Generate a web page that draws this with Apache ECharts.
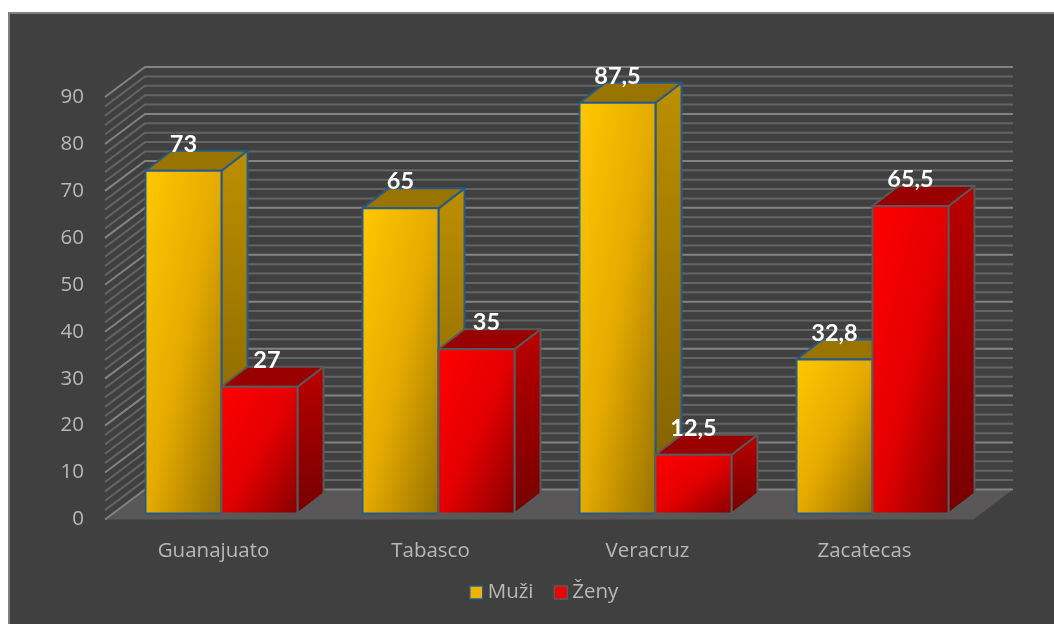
<!DOCTYPE html>
<html>
<head>
<meta charset="utf-8">
<style>html,body{margin:0;padding:0;background:#fff}#c{width:1054px;height:624px}</style>
<script src="https://cdn.jsdelivr.net/npm/echarts@6/dist/echarts.min.js"></script>
</head>
<body>
<div id="c"></div>
<script>
const categories = ['Guanajuato', 'Tabasco', 'Veracruz', 'Zacatecas'];
const muzi = [73, 65, 87.5, 32.8];
const zeny = [27, 35, 12.5, 65.5];
const gridTicks = [0,2,4,6,8,10,12,14,16,18,20,22,24,26,28,30,32,34,36,38,40,42,44,46,48,50,52,54,56,58,60,62,64,66,68,70,72,74,76,78,80,82,84,86,88,90];
const labelFormat = v => String(v).replace('.', ',');

const FONT = '"Open Sans"';
const wallDx = 40, wallDy = -30, barDx = 8, barDy = -6, sideDx = 26, sideDy = -20, barFrac = 76 / 217;
const zenyLabelNudge = {0: 7.5, 1: 10};

function grad(w, h, stops) {
  const d = w * w + h * h;
  return {type: 'linear', x: 0, y: 0, x2: 2 * h * h / d, y2: 2 * w * w / d,
    colorStops: stops.map((c, i) => ({offset: i / (stops.length - 1), color: c}))};
}
const skins = {
  muzi: {border: '#265b89', front: ['#ffc800', '#e4aa00', '#957000'], side: ['#bd8f00', '#7d5e00'], top: '#997400'},
  zeny: {border: '#595959', front: ['#ff0000', '#e40000', '#840000'], side: ['#bb0000', '#760000'], top: '#990000'}
};
function barRenderer(skin, dir, nudge) {
  return function (params, api) {
    const i = api.value(0), v = api.value(1);
    const top = api.coord([i, v]), base = api.coord([i, 0]);
    const w = api.size([1, 0])[0] * barFrac;
    const x0 = top[0] + barDx + (dir < 0 ? -w : 0), x1 = x0 + w;
    const y0 = top[1] + barDy, y1 = base[1] + barDy;
    const st = {stroke: skin.border, lineWidth: 2, lineJoin: 'round'};
    const poly = (pts, fill) => ({type: 'polygon', shape: {points: pts}, style: Object.assign({fill}, st)});
    return {type: 'group', children: [
      poly([[x1, y0], [x1 + sideDx, y0 + sideDy], [x1 + sideDx, y1 + sideDy], [x1, y1]],
        {type: 'linear', x: 0, y: 0, x2: 0.25, y2: 1, colorStops: [{offset: 0, color: skin.side[0]}, {offset: 1, color: skin.side[1]}]}),
      poly([[x0, y0], [x0 + sideDx, y0 + sideDy], [x1 + sideDx, y0 + sideDy], [x1, y0]], skin.top),
      poly([[x0, y0], [x1, y0], [x1, y1], [x0, y1]], grad(w, y1 - y0, skin.front)),
      {type: 'text', z2: 100, style: {text: labelFormat(v), x: (x0 + x1) / 2 + (nudge[i] || 0), y: y0 - 26.5, align: 'center', verticalAlign: 'middle',
        fill: '#ffffff', font: 'bold 23.5px Lato'}}
    ]};
  };
}
function wallRenderer(params, api) {
  const v = api.value(0), cs = params.coordSys, p = api.coord([0, v]);
  const xl = cs.x, xr = cs.x + cs.width, y = p[1], major = v % 10 === 0;
  const ch = [];
  if (v === 0) {
    ch.push({type: 'polygon', shape: {points: [[xl, y], [xr, y], [xr + wallDx, y + wallDy], [xl + wallDx, y + wallDy]]},
      style: {fill: '#595757'}});
  }
  ch.push({type: 'polyline', shape: {points: [[xl, y], [xl + wallDx, y + wallDy], [xr + wallDx, y + wallDy]]},
    style: {fill: 'none', stroke: major ? '#828282' : '#646464', lineWidth: 2}});
  return {type: 'group', children: ch};
}

const chart = echarts.init(document.getElementById('c'), null, {renderer: 'canvas'});
chart.setOption({
  animation: false,
  backgroundColor: '#ffffff',
  graphic: [{type: 'rect', z: -10, shape: {x: 9, y: 13, width: 1100, height: 700},
    style: {fill: '#404040', stroke: '#7f7f7f', lineWidth: 2}}],
  grid: {left: 105, top: 97, width: 868, height: 422.5},
  xAxis: {type: 'category', data: categories, axisLine: {show: false}, axisTick: {show: false},
    axisLabel: {color: '#b8b8b8', fontFamily: FONT, fontSize: 20.5, margin: 21}},
  yAxis: {type: 'value', min: 0, max: 90, interval: 10, axisLine: {show: false}, axisTick: {show: false},
    splitLine: {show: false}, axisLabel: {color: '#b8b8b8', fontFamily: FONT, fontSize: 20.5, margin: 21}},
  legend: {left: 469, top: 582, padding: 0, itemWidth: 13, itemHeight: 13, itemGap: 20, icon: 'rect',
    textStyle: {color: '#b8b8b8', fontFamily: FONT, fontSize: 20.5},
    data: [
      {name: 'Muži', itemStyle: {color: '#f0b400', borderColor: skins.muzi.border, borderWidth: 1.5}},
      {name: 'Ženy', itemStyle: {color: '#f00000', borderColor: skins.zeny.border, borderWidth: 1.5}}
    ]},
  series: [
    {type: 'custom', name: 'mřížka', silent: true, clip: false, z: 1, renderItem: wallRenderer, data: gridTicks.map(v => [v]), encode: {y: 0}},
    {type: 'custom', name: 'Muži', clip: false, z: 2, itemStyle: {color: '#f0b400'}, renderItem: barRenderer(skins.muzi, -1, {}),
      data: muzi.map((v, i) => [i, v]), encode: {x: 0, y: 1}},
    {type: 'custom', name: 'Ženy', clip: false, z: 3, itemStyle: {color: '#f00000'}, renderItem: barRenderer(skins.zeny, 1, zenyLabelNudge),
      data: zeny.map((v, i) => [i, v]), encode: {x: 0, y: 1}}
  ]
});
</script>
</body>
</html>
